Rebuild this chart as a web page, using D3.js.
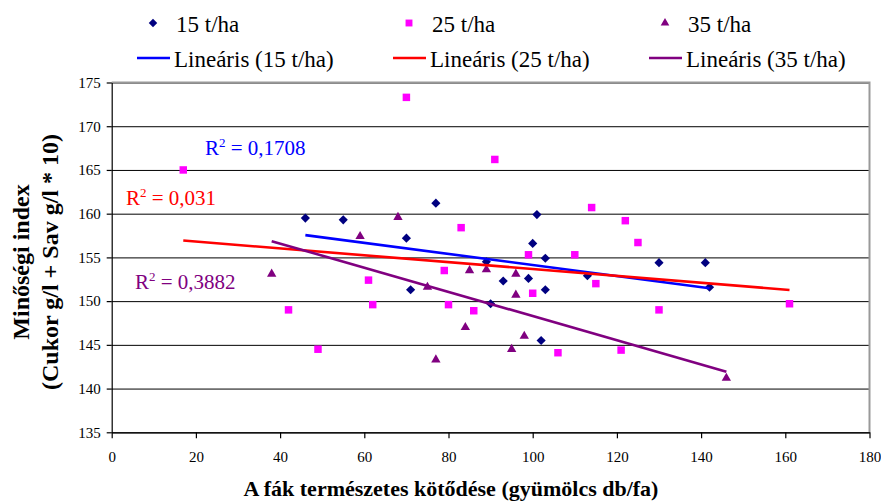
<!DOCTYPE html>
<html>
<head>
<meta charset="utf-8">
<script src="https://cdn.jsdelivr.net/npm/d3@7"></script>
<style>
  body { margin: 0; background: #fff; }
  text { font-family: "Liberation Serif", "Times New Roman", serif; }
</style>
</head>
<body>
<div id="chart"></div>
<script>
// Data
const x15 = [46, 55, 70, 71, 77, 89, 90, 93, 99, 100, 101, 102, 103, 103, 113, 130, 141, 142];
const y15 = [159.5, 159.3, 157.2, 151.3, 161.2, 154.5, 149.7, 152.3, 152.6, 156.6, 159.9, 145.5, 154.9, 151.3, 152.9, 154.4, 154.4, 151.6];

const x25 = [17, 42, 49, 61, 62, 70, 79, 80, 83, 86, 91, 99, 100, 106, 110, 114, 115, 121, 122, 125, 130, 161];
const y25 = [165, 149, 144.5, 152.4, 149.6, 173.3, 153.5, 149.6, 158.4, 148.9, 166.2, 155.3, 150.9, 144.1, 155.3, 160.7, 152, 144.4, 159.2, 156.7, 149, 149.7];

const x35 = [38, 59, 68, 75, 77, 84, 85, 89, 95, 96, 96, 98, 146];
const y35 = [153.1, 157.4, 159.6, 151.6, 143.3, 147, 153.5, 153.6, 144.5, 153.1, 150.7, 146, 141.2];

const seriesNames = ["15 t/ha", "25 t/ha", "35 t/ha"];
const trendNames = ["Lineáris (15 t/ha)", "Lineáris (25 t/ha)", "Lineáris (35 t/ha)"];
const r2Labels = ["0,1708", "0,031", "0,3882"];
const xTicks = [0, 20, 40, 60, 80, 100, 120, 140, 160, 180];
const yTicks = [135, 140, 145, 150, 155, 160, 165, 170, 175];

const markerColors = ["#000080", "#ff00ff", "#800080"];
const lineColors = ["#0000ff", "#ff0000", "#800080"];

const margin = { top: 82.5, left: 111.7 };
const width = 757.8;
const height = 349.8;

const svg = d3
  .select("#chart")
  .append("svg")
  .attr("width", 881)
  .attr("height", 504);

svg.append("rect").attr("width", 881).attr("height", 504).attr("fill", "#fff");

const g = svg.append("g").attr("transform", `translate(${margin.left},${margin.top})`);

const x = d3.scaleLinear().domain([0, 180]).range([0, width]);
const y = d3.scaleLinear().domain([135, 175]).range([height, 0]);

// grid lines
g.append("g")
  .call(d3.axisLeft(y).tickValues(yTicks).tickSize(-width).tickFormat(""))
  .call((s) => s.select(".domain").remove())
  .call((s) => s.selectAll("line").attr("stroke", "#000").attr("stroke-width", 1));

// plot border (right / top)
g.append("path")
  .attr("d", `M0,0H${width}V${height}`)
  .attr("fill", "none")
  .attr("stroke", "#999")
  .attr("stroke-width", 2);

// axes
const xAxis = g
  .append("g")
  .attr("transform", `translate(0,${height})`)
  .call(d3.axisBottom(x).tickValues(xTicks).tickSize(6).tickSizeOuter(0).tickPadding(13));
const yAxis = g
  .append("g")
  .call(d3.axisLeft(y).tickValues(yTicks).tickSize(5).tickSizeOuter(0).tickPadding(6));

[xAxis, yAxis].forEach((a) => {
  a.selectAll("path, line").attr("stroke", "#000").attr("stroke-width", 1.2);
  a.selectAll("text")
    .attr("font-family", '"Liberation Serif", "Times New Roman", serif')
    .attr("font-size", 15)
    .attr("fill", "#000");
});

// trend lines (least squares)
function fit(xs, ys) {
  const mx = d3.mean(xs), my = d3.mean(ys);
  const sxy = d3.sum(xs, (v, i) => (v - mx) * (ys[i] - my));
  const sxx = d3.sum(xs, (v) => (v - mx) * (v - mx));
  const b = sxy / sxx, a = my - b * mx;
  const x0 = d3.min(xs), x1 = d3.max(xs);
  return [[x0, a + b * x0], [x1, a + b * x1]];
}

const series = [
  { xs: x15, ys: y15, symbol: "diamond" },
  { xs: x25, ys: y25, symbol: "square" },
  { xs: x35, ys: y35, symbol: "triangle" },
];

function marker(sel, type, color, scale) {
  if (type === "diamond") {
    sel.append("path")
      .attr("d", d3.symbol(d3.symbolSquare, 42 * scale)())
      .attr("transform", "rotate(45)")
      .attr("fill", color);
  } else if (type === "square") {
    sel.append("path").attr("d", d3.symbol(d3.symbolSquare, 56 * scale)()).attr("fill", color);
  } else {
    sel.append("path").attr("d", d3.symbol(d3.symbolTriangle, 38 * scale)()).attr("fill", color);
  }
}

// points
series.forEach((s, si) => {
  const pts = s.xs.map((v, i) => [v, s.ys[i]]);
  g.append("g")
    .selectAll("g")
    .data(pts)
    .join("g")
    .attr("transform", (d) => `translate(${x(d[0])},${y(d[1])})`)
    .each(function () {
      marker(d3.select(this), s.symbol, markerColors[si], 1);
    });
});

// lines drawn above points like in the original
const line = d3.line().x((d) => x(d[0])).y((d) => y(d[1]));
series.forEach((s, si) => {
  g.append("path")
    .attr("d", line(fit(s.xs, s.ys)))
    .attr("stroke", lineColors[si])
    .attr("stroke-width", 2.6)
    .attr("fill", "none");
});

// R² labels
const r2Pos = [[205, 155], [126, 205], [135, 289]];
r2Labels.forEach((lbl, i) => {
  const t = svg.append("text")
    .attr("x", r2Pos[i][0])
    .attr("y", r2Pos[i][1])
    .attr("font-size", 21)
    .attr("fill", lineColors[i]);
  t.append("tspan").text("R");
  t.append("tspan").attr("font-size", 13).attr("dy", -8).text("2");
  t.append("tspan").attr("dy", 8).text(" = " + lbl);
});

// legend
const legendX = [137, 393, 649];
seriesNames.forEach((name, i) => {
  const lg = svg.append("g").attr("transform", `translate(${legendX[i]},0)`);
  const m = lg.append("g").attr("transform", "translate(16,23)");
  marker(m, series[i].symbol, markerColors[i], 0.85);
  lg.append("text").attr("x", 39).attr("y", 32).attr("font-size", 23).text(name);
  lg.append("line")
    .attr("x1", 0).attr("x2", 33)
    .attr("y1", 58).attr("y2", 58)
    .attr("stroke", lineColors[i])
    .attr("stroke-width", 2.6);
  lg.append("text").attr("x", 37).attr("y", 67).attr("font-size", 23).text(trendNames[i]);
});

// axis titles
svg.append("text")
  .attr("x", 451)
  .attr("y", 496)
  .attr("text-anchor", "middle")
  .attr("font-size", 22)
  .attr("font-weight", "bold")
  .text("A fák természetes kötődése (gyümölcs db/fa)");

const yt = svg.append("text")
  .attr("transform", "translate(0,262) rotate(-90)")
  .attr("text-anchor", "middle")
  .attr("font-size", 24)
  .attr("font-weight", "bold");
yt.append("tspan").attr("x", 0).attr("y", 29).text("Minőségi index");
yt.append("tspan").attr("x", 0).attr("y", 58).text("(Cukor g/l + Sav g/l * 10)");
</script>
</body>
</html>
